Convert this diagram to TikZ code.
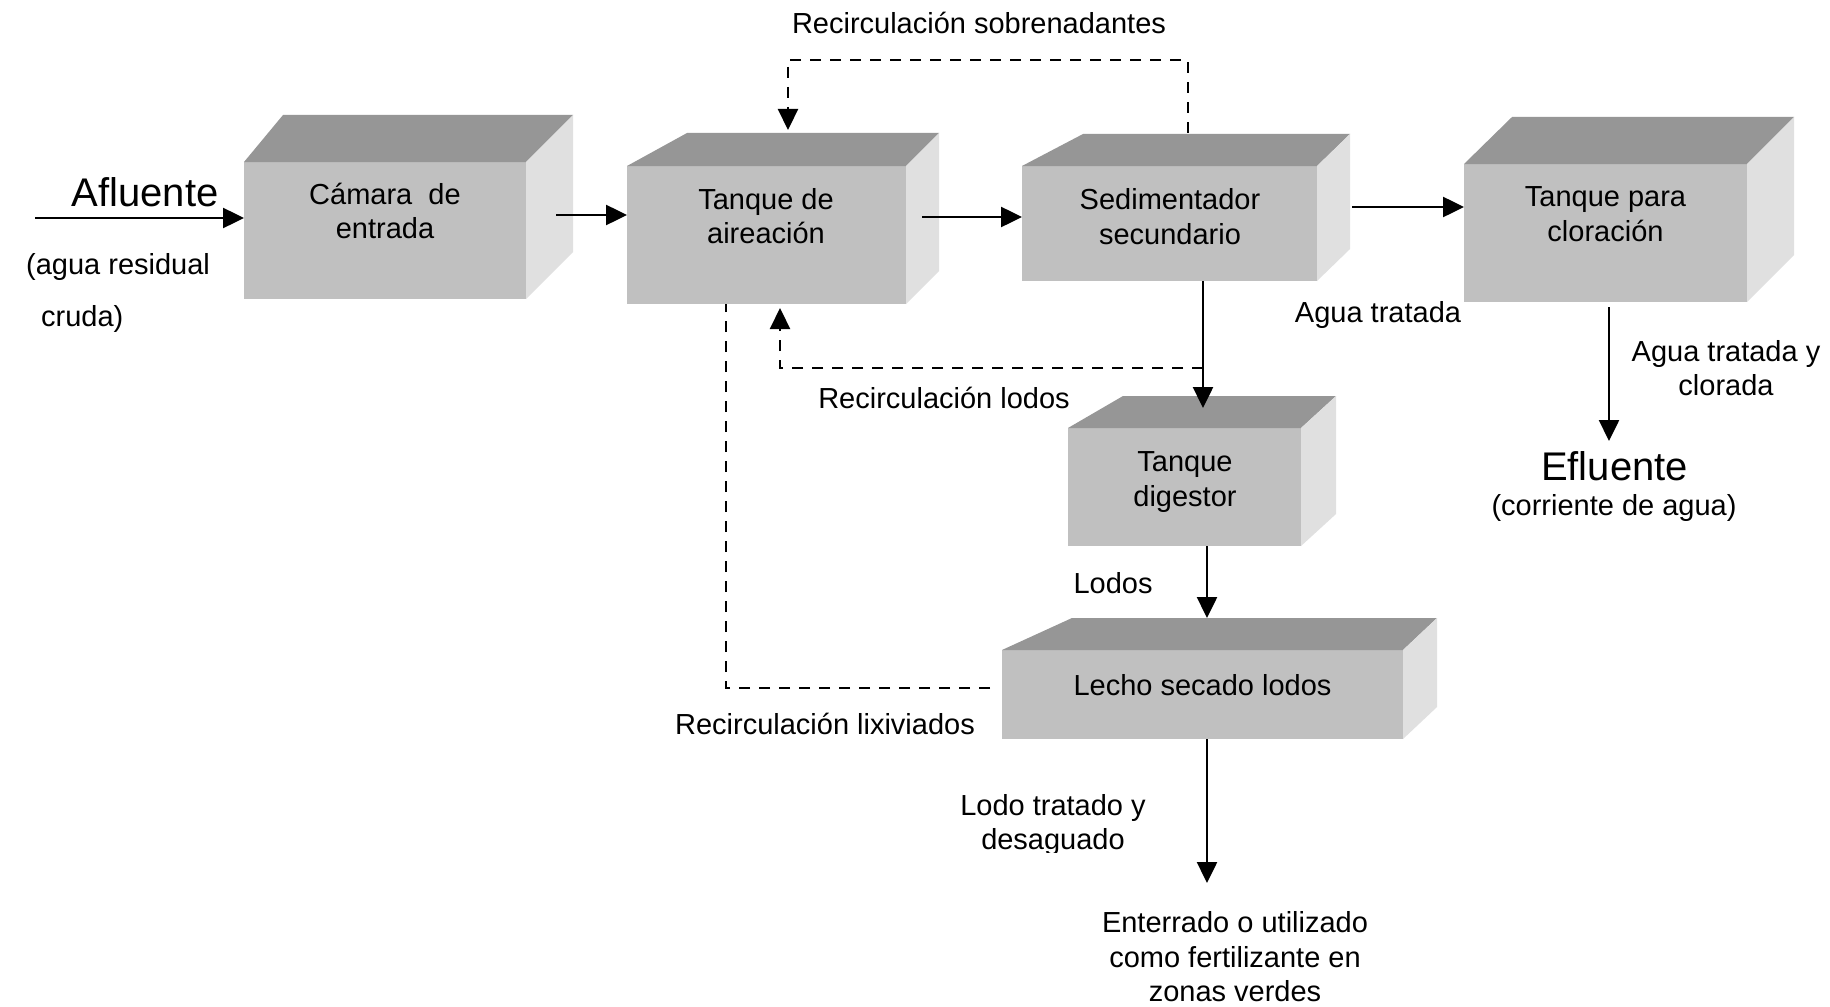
\documentclass[tikz,border=0pt]{standalone}
\usepackage{fontspec}
\setmainfont{Liberation Sans}
\usetikzlibrary{arrows.meta,calc}
\definecolor{frontc}{HTML}{C0C0C0}
\definecolor{topc}{HTML}{969696}
\definecolor{sidec}{HTML}{E0E0E0}
\newcommand\cubesides[4]{%
  \fill[topc] (#1.north west) -- ++(#2,-#4) -- ($(#1.north east)+(#3,-#4)$) -- (#1.north east) -- cycle;
  \fill[sidec] (#1.north east) -- ++(#3,-#4) -- ($(#1.south east)+(#3,-#4)$) -- (#1.south east) -- cycle;
}
\begin{document}
\begin{tikzpicture}[x=1pt,y=-1pt,
  face/.style={fill=frontc, inner sep=0pt, outer sep=0pt, anchor=north west},
  txt/.style={font=\fontsize{29}{34.5}\selectfont, inner sep=0pt, align=center, text=black},
  bigtxt/.style={font=\fontsize{40}{44}\selectfont, inner sep=0pt, text=black},
  flow/.style={line width=2.5pt},
  tip/.style={-{Triangle[length=21pt,width=20pt]}},
  dsh/.style={line width=2.2pt, dash pattern=on 11pt off 9pt}]
\useasboundingbox (0,0) rectangle (1830,1006);
\fill[white] (0,0) rectangle (1830,1006);

% front faces
\node[face, minimum width=282pt, minimum height=137pt] (b1) at (244,162) {};
\node[face, minimum width=279pt, minimum height=138pt] (b2) at (627,166) {};
\node[face, minimum width=295pt, minimum height=115pt] (b3) at (1022,166) {};
\node[face, minimum width=283pt, minimum height=138pt] (b4) at (1464,164) {};
\node[face, minimum width=233pt, minimum height=118pt] (b5) at (1068,428) {};
\node[face, minimum width=401pt, minimum height=89pt] (b6) at (1002,650) {};
\cubesides{b1}{39}{47}{47}
\cubesides{b2}{60}{33}{33}
\cubesides{b3}{61}{33}{32}
\cubesides{b4}{48}{47}{47}
\cubesides{b5}{55}{35}{32}
\cubesides{b6}{70}{34}{32}

% box texts
\node[txt] (t1) at (385,211) {Cámara\ \ de\\entrada};
\node[txt] (t2) at (766,216) {Tanque de\\aireación};
\node[txt] (t3) at (1170,216.5) {Sedimentador\\secundario};
\node[txt] (t4) at (1605.5,214) {Tanque para\\cloración};
\node[txt] (t5) at (1185,482) {Tanque\\digestor};
\node[txt, anchor=base] (t6) at (1202.5,695) {Lecho secado lodos};

% labels
\node[bigtxt, anchor=base] (afl) at (145,206) {Afluente};
\node[txt, anchor=base west] (agr) at (26,274) {(agua residual};
\node[txt, anchor=base west] (cru) at (41,326) {cruda)};
\node[txt, anchor=base] (rsob) at (979,34) {Recirculación sobrenadantes};
\node[txt, anchor=base] (atr) at (1378,322) {Agua tratada};
\node[txt] (atc) at (1726,368) {Agua tratada y\\clorada};
\node[bigtxt, anchor=base] (efl) at (1614.5,480) {Efluente};
\node[txt, anchor=base] (cda) at (1614,515) {(corriente de agua)};
\node[txt, anchor=base] (rlod) at (944,408) {Recirculación lodos};
\node[txt, anchor=base] (lod) at (1113,593) {Lodos};
\node[txt, anchor=base] (rlix) at (825,734) {Recirculación lixiviados};
\begin{scope}
  \clip (900,780) rectangle (1200,852);
  \node[txt] (ltd) at (1053,825) {Lodo tratado y\\desaguado};
\end{scope}
\node[txt] (ent) at (1235,957) {Enterrado o utilizado\\como fertilizante en\\zonas verdes};

% solid connectors
\coordinate (src) at (35,218);
\draw[flow, tip] (src) -- (src -| b1.west);
\coordinate (c12) at ($(b1.east)+(30,-15.5)$);
\draw[flow, tip] (c12) -- (c12 -| b2.west);
\coordinate (c23) at ($(b2.east)+(16,-18)$);
\draw[flow, tip] (c23) -- (c23 -| b3.west);
\coordinate (c34) at ($(b3.east)+(35,-16.5)$);
\draw[flow, tip] (c34) -- (c34 -| b4.west);
\coordinate (c35) at ($(b3.south)+(33.5,0)$);
\draw[flow, tip] (c35) -- ++(0,127);
\coordinate (c56) at ($(b5.south)+(22.5,0)$);
\draw[flow, tip] (c56) -- ++(0,72);
\coordinate (c4e) at ($(b4.south)+(3.5,5)$);
\draw[flow, tip] (c4e) -- ++(0,134);
\coordinate (c6o) at ($(b6.south)+(4.5,0)$);
\draw[flow, tip] (c6o) -- ++(0,144);

% dashed connectors
\coordinate (s1) at ($(b3.north)+(18.5,-33)$);
\coordinate (s2) at ($(b2.north)+(21.5,-36)$);
\draw[dsh, tip] (s1) -- ++(0,-73) -| (s2);
\coordinate (jl) at ($(c35)+(0,87)$);
\coordinate (s3) at ($(b2.south)+(13.5,4)$);
\draw[dsh, tip] (jl) -| (s3);
\coordinate (lx) at ($(b6.west)+(-12,-6.5)$);
\coordinate (s4) at ($(b2.south)+(-40.5,0)$);
\draw[dsh] (lx) -| (s4);
\end{tikzpicture}
\end{document}
